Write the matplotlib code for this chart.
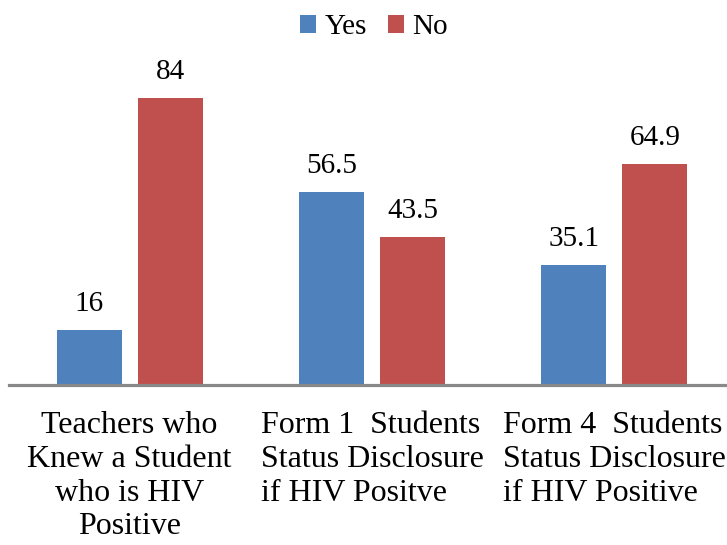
import matplotlib
matplotlib.use("Agg")
import matplotlib.pyplot as plt
import numpy as np

categories = ["Teachers who\nKnew a Student\nwho is HIV\nPositive",
              "Form 1  Students\nStatus Disclosure\nif HIV Positve",
              "Form 4  Students\nStatus Disclosure\nif HIV Positive"]
yes_vals = [16, 56.5, 35.1]
no_vals = [84, 43.5, 64.9]
value_labels_yes = ["16", "56.5", "35.1"]
value_labels_no = ["84", "43.5", "64.9"]
label_align = ["center", "left", "left"]

plt.rcParams['font.family'] = ['Liberation Serif', 'DejaVu Serif']

W, H = 727, 545
fig = plt.figure(figsize=(W / 100, H / 100), dpi=100)
left_px, right_px = 8.5, 735.5
bottom_px, top_px = 385, 78
ax = fig.add_axes([left_px / W, 1 - bottom_px / H, (right_px - left_px) / W, (bottom_px - top_px) / H])

x = np.arange(len(categories))
bw = 0.268
off = 0.167
blue, red = "#4F81BD", "#C0504D"
b1 = ax.bar(x - off, yes_vals, bw, color=blue, label="Yes", zorder=2)
b2 = ax.bar(x + off, no_vals, bw, color=red, label="No", zorder=2)

for rect, lab in zip(b1, value_labels_yes):
    ax.annotate(lab, (rect.get_x() + rect.get_width() / 2, rect.get_height()),
                xytext=(0, 13), textcoords="offset pixels", ha="center", va="bottom", fontsize=21)
for rect, lab in zip(b2, value_labels_no):
    ax.annotate(lab, (rect.get_x() + rect.get_width() / 2, rect.get_height()),
                xytext=(0, 13), textcoords="offset pixels", ha="center", va="bottom", fontsize=21)

ax.set_xlim(-0.5, 2.5)
ax.set_ylim(0, 90)
ax.set_yticks([])
ax.set_xticks(x)
ax.set_xticklabels(categories, fontsize=23, linespacing=1.21)
for t, a in zip(ax.get_xticklabels(), label_align):
    t.set_multialignment(a)
ax.tick_params(axis='x', length=0, pad=19)
for s in ["top", "right", "left"]:
    ax.spines[s].set_visible(False)
ax.spines["bottom"].set_color("#898989")
ax.spines["bottom"].set_linewidth(2.3)
ax.spines["bottom"].set_zorder(3)

leg = fig.legend(loc="center", bbox_to_anchor=(374 / W, 1 - 27 / H), ncol=2, frameon=False,
                 fontsize=21, handlelength=0.56, handleheight=0.56, handletextpad=0.3, columnspacing=0.7)

fig.savefig("out.png", dpi=100)
